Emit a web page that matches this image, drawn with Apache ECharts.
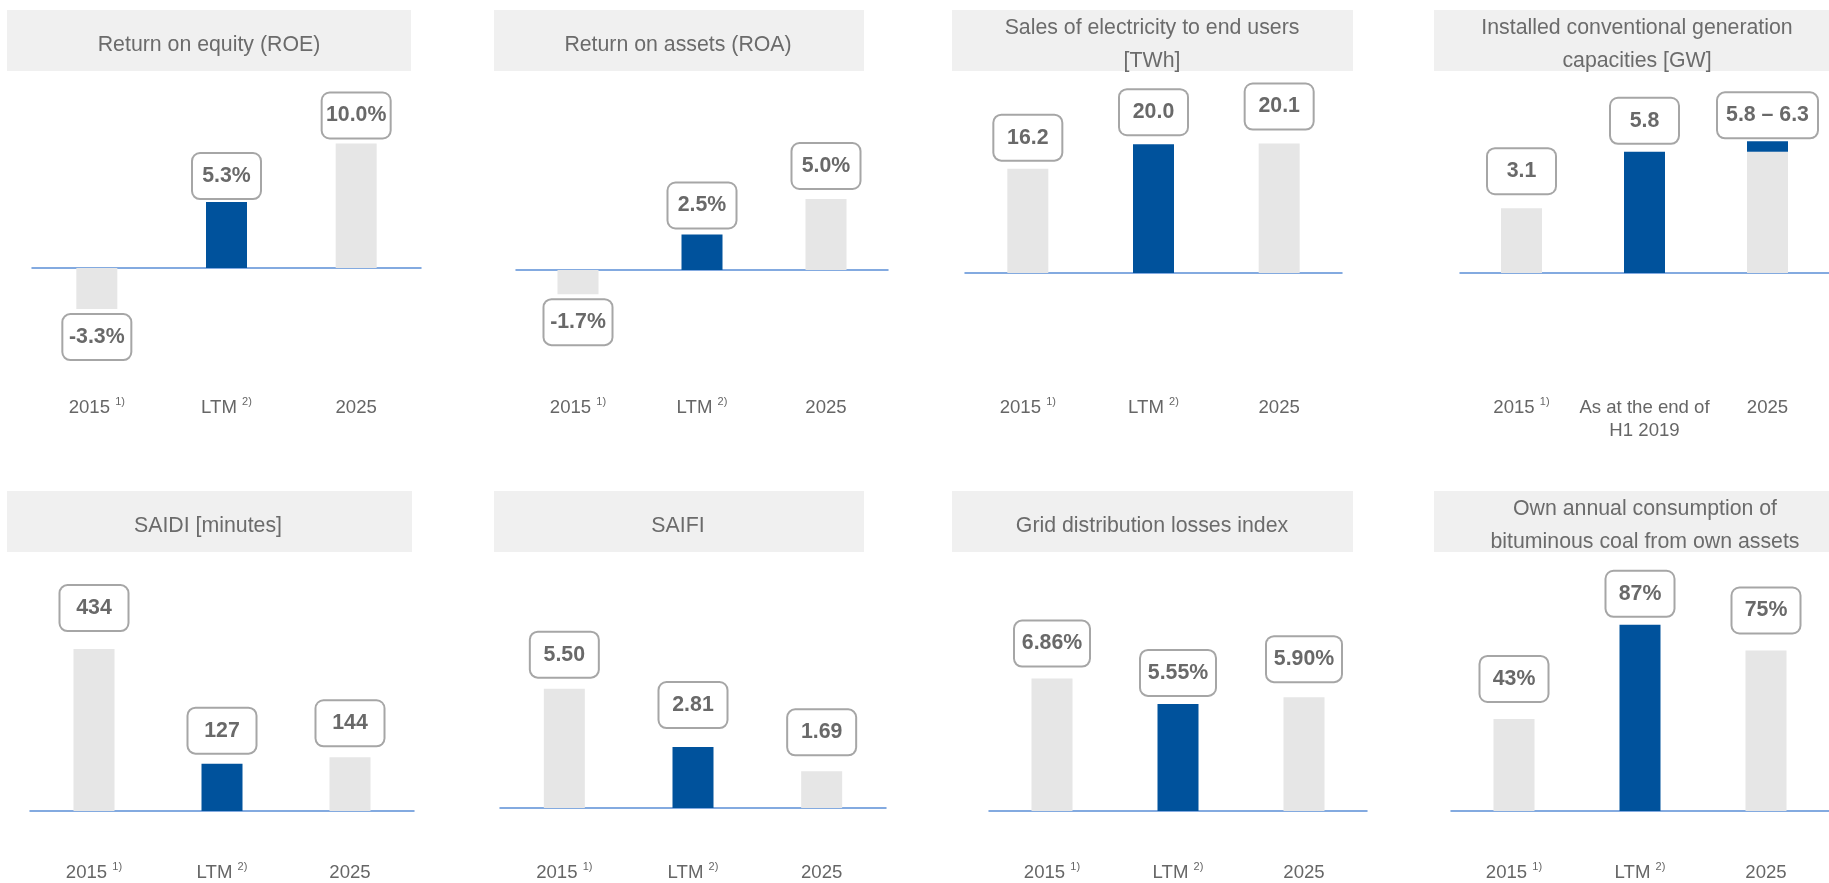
<!DOCTYPE html>
<html>
<head>
<meta charset="utf-8">
<title>KPI overview</title>
<script src="https://cdn.jsdelivr.net/npm/echarts@6/dist/echarts.min.js"></script>
<style>
  html, body { margin: 0; padding: 0; background: #fff; }
  #kpi_chart { width: 1829px; height: 883px; }
</style>
</head>
<body>
<div id="kpi_chart"></div>
<script>
// ---- data ----
var categories = ['2015', 'LTM', '2025'];
var categoriesCapacity = ['2015', 'As at the end of\nH1 2019', '2025'];
var footnotes = ['1)', '2)', ''];
var footnotesCapacity = ['1)', '', ''];

var roe = [-3.3, 5.3, 10.0];            // %
var roa = [-1.7, 2.5, 5.0];             // %
var salesTWh = [16.2, 20.0, 20.1];      // TWh
var capacityGW = [3.1, 5.8, 5.8];       // GW
var capacityRangeGW = ['-', '-', 0.5];  // 2025 target 5.8 - 6.3
var saidi = [434, 127, 144];            // minutes
var saifi = [5.50, 2.81, 1.69];
var gridLosses = [6.86, 5.55, 5.90];    // %
var coalOwn = [43, 87, 75];             // %

var titles = [
  'Return on equity (ROE)',
  'Return on assets (ROA)',
  'Sales of electricity to end users\n[TWh]',
  'Installed conventional generation\ncapacities [GW]',
  'SAIDI [minutes]',
  'SAIFI',
  'Grid distribution losses index',
  'Own annual consumption of\nbituminous coal from own assets'
];

// ---- layout / style ----
var FONT = '"Liberation Sans", Arial, sans-serif';
var barColors = ['#e6e6e6', '#00529c', '#e6e6e6'];
var BLUE = '#00529c';

// grid left/width, y of zero line, px per unit, axis range, y of category labels
var layout = [
  {left: 32,   width: 389, zero: 268, unit: 12.45, min: -4, max: 12,  labelY: 396},
  {left: 516,  width: 372, zero: 270, unit: 14.2,  min: -4, max: 8,   labelY: 396},
  {left: 965,  width: 377, zero: 273, unit: 6.44,  min: 0,  max: 25,  labelY: 396},
  {left: 1460, width: 378, zero: 273, unit: 20.9,  min: 0,  max: 8,   labelY: 396},
  {left: 30,   width: 384, zero: 811, unit: 0.373, min: 0,  max: 500, labelY: 861},
  {left: 500,  width: 386, zero: 808, unit: 21.7,  min: 0,  max: 7,   labelY: 861},
  {left: 989,  width: 378, zero: 811, unit: 19.3,  min: 0,  max: 8,   labelY: 861},
  {left: 1451, width: 381, zero: 811, unit: 2.14,  min: 0,  max: 100, labelY: 861}
];
// title boxes: x, y, w, h, text centre x
var titleBoxes = [
  [7, 10, 404, 61, 209], [494, 10, 370, 61, 678], [952, 10, 401, 61, 1152], [1434, 10, 420, 61, 1637],
  [7, 491, 405, 61, 208], [494, 491, 370, 61, 678], [952, 491, 401, 61, 1152], [1434, 491, 420, 61, 1645]
];
// gap between bar end and value box
var labelGaps = [
  [6, 4, 6], [6, 7, 11], [9, 10, 15], [15, 9, 4],
  [19, 11, 12], [12, 20, 17], [13, 9, 16], [18, 9, 18]
];

var valueLabel = {
  show: true,
  color: '#696969',
  fontFamily: FONT,
  fontWeight: 'bold',
  fontSize: 21.3,
  lineHeight: 22,
  width: 67,
  align: 'center',
  padding: [11, 0],
  backgroundColor: '#fff',
  borderColor: '#a6a6a6',
  borderWidth: 2,
  borderRadius: 7
};

function fmt(digits, suffix) {
  return function (p) { return Number(p.value).toFixed(digits) + suffix; };
}

function barSeries(idx, values, formatter, extra) {
  return {
    type: 'bar',
    xAxisIndex: idx,
    yAxisIndex: idx,
    barWidth: 41,
    stack: 's' + idx,
    silent: true,
    label: Object.assign({}, valueLabel, {formatter: formatter}, extra || {}),
    data: values.map(function (v, i) {
      return {
        value: v,
        itemStyle: {color: barColors[i]},
        label: {position: v < 0 ? 'bottom' : 'top', distance: labelGaps[idx][i]}
      };
    })
  };
}

var grids = [], xAxes = [], yAxes = [], graphics = [];
layout.forEach(function (g, i) {
  var top = g.zero - g.max * g.unit;
  var height = (g.max - g.min) * g.unit;
  grids.push({left: g.left, width: g.width, top: top, height: height});
  var cats = i === 3 ? categoriesCapacity : categories;
  var notes = i === 3 ? footnotesCapacity : footnotes;
  xAxes.push({
    type: 'category',
    gridIndex: i,
    data: cats,
    axisLine: {show: true, onZero: true, lineStyle: {color: '#5b8fd6', width: 1.5}},
    axisTick: {show: false},
    splitLine: {show: false},
    axisLabel: {
      interval: 0,
      // labels are laid out from the grid bottom, not from the zero line
      margin: g.labelY - (top + height),
      formatter: function (v, k) {
        var lines = v.split('\n').map(function (l) { return '{c|' + l + '}'; });
        if (notes[k]) lines[0] += '{c| }{s|' + notes[k] + '}';
        return lines.join('\n');
      },
      rich: {
        c: {fontFamily: FONT, fontSize: 18.6, lineHeight: 23, color: '#666'},
        s: {fontFamily: FONT, fontSize: 11, lineHeight: 13, color: '#666', verticalAlign: 'top'}
      }
    }
  });
  yAxes.push({type: 'value', gridIndex: i, min: g.min, max: g.max, show: false});

  var b = titleBoxes[i];
  graphics.push({
    type: 'rect', silent: true,
    shape: {x: b[0], y: b[1], width: b[2], height: b[3]},
    style: {fill: '#f0f0f0'}
  });
  graphics.push({
    type: 'text', silent: true,
    style: {
      text: titles[i], x: b[4], y: b[1] + 35,
      fill: '#6b6b6b', fontFamily: FONT, fontSize: 21.3, lineHeight: 33,
      textAlign: 'center', textVerticalAlign: 'middle'
    }
  });
});

var series = [
  barSeries(0, roe, fmt(1, '%')),
  barSeries(1, roa, fmt(1, '%')),
  barSeries(2, salesTWh, fmt(1, '')),
  barSeries(3, capacityGW, function (p) {
    return p.dataIndex === 2 ? '' : Number(p.value).toFixed(1);
  }),
  {
    type: 'bar', xAxisIndex: 3, yAxisIndex: 3, barWidth: 41, stack: 's3', silent: true,
    itemStyle: {color: BLUE},
    label: Object.assign({}, valueLabel, {
      width: 99,
      position: 'top',
      distance: labelGaps[3][2],
      formatter: function (p) {
        var base = capacityGW[p.dataIndex];
        return base.toFixed(1) + ' \u2013 ' + (base + p.value).toFixed(1);
      }
    }),
    data: capacityRangeGW
  },
  barSeries(4, saidi, fmt(0, '')),
  barSeries(5, saifi, fmt(2, '')),
  barSeries(6, gridLosses, fmt(2, '%'), {width: 74}),
  barSeries(7, coalOwn, fmt(0, '%'))
];
// no value box on the 2025 base bar of the capacity panel
series[3].data[2].label.show = false;

var chart = echarts.init(document.getElementById('kpi_chart'), null, {renderer: 'canvas'});
chart.setOption({
  animation: false,
  backgroundColor: '#fff',
  grid: grids,
  xAxis: xAxes,
  yAxis: yAxes,
  series: series,
  graphic: graphics
});
</script>
</body>
</html>
